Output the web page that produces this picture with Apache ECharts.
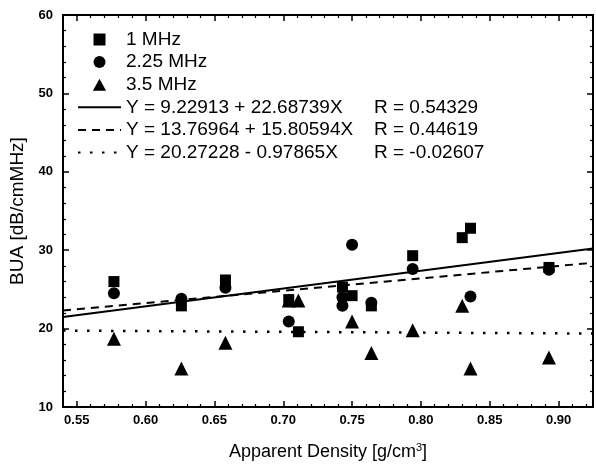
<!DOCTYPE html>
<html>
<head>
<meta charset="utf-8">
<script src="https://cdn.jsdelivr.net/npm/echarts@6/dist/echarts.min.js"></script>
<style>
	html, body {margin: 0; padding: 0; background: #fff;}
	#chart {width: 596px; height: 468px;}
</style>
</head>
<body>
<div id="chart"></div>
<script>
	// apparent density [g/cm3] and BUA [dB/cmMHz]
	var x1MHz = [0.577, 0.626, 0.658, 0.704, 0.711, 0.743, 0.750, 0.764, 0.794, 0.830, 0.836, 0.893];
	var y1MHz = [26.0, 22.9, 26.2, 23.7, 19.6, 25.3, 24.2, 22.9, 29.3, 31.6, 32.8, 27.8];

	var x225MHz = [0.577, 0.626, 0.658, 0.704, 0.743, 0.743, 0.750, 0.764, 0.794, 0.836, 0.893];
	var y225MHz = [24.5, 23.8, 25.2, 20.9, 24.0, 22.9, 30.7, 23.3, 27.6, 24.1, 27.5];

	var x35MHz = [0.577, 0.626, 0.658, 0.704, 0.711, 0.750, 0.764, 0.794, 0.830, 0.836, 0.893];
	var y35MHz = [18.7, 14.9, 18.2, 23.6, 23.6, 20.9, 16.9, 19.8, 22.9, 14.9, 16.3];

	// linear fits: intercept, slope, R
	var fitNames = ['Y = 9.22913 + 22.68739X', 'Y = 13.76964 + 15.80594X', 'Y = 20.27228 - 0.97865X'];
	var fitA = [9.22913, 13.76964, 20.27228];
	var fitB = [22.68739, 15.80594, -0.97865];
	var fitR = ['R = 0.54329', 'R = 0.44619', 'R = -0.02607'];
	var fitLine = ['solid', [8, 6], [2.5, 9.5]];

	var xMin = 0.54, xMax = 0.925;
	var font = 'Liberation Sans, Arial, sans-serif';

	function $extend(a, b){
		for (var k in b) a[k] = b[k];
		return a;
	}

	function pairs(xs, ys){
		return xs.map(function(x, i){ return [x, ys[i]]; });
	}

	var fitSeries = fitNames.map(function(name, i){
		return {
			name: name,
			type: 'line',
			symbol: 'none',
			silent: true,
			itemStyle: {color: '#000'},
			data: [xMin, xMax].map(function(x){ return [x, fitA[i] + fitB[i] * x]; }),
			lineStyle: {color: '#000', width: i == 2 ? 2.5 : 2, type: fitLine[i]}
		};
	});

	var pointSeries = [
		{name: '1 MHz', symbol: 'rect', symbolSize: 11, data: pairs(x1MHz, y1MHz)},
		{name: '2.25 MHz', symbol: 'circle', symbolSize: 12, data: pairs(x225MHz, y225MHz)},
		{name: '3.5 MHz', symbol: 'triangle', symbolSize: 14, data: pairs(x35MHz, y35MHz)}
	].map(function(s){
		return $extend(s, {type: 'scatter', itemStyle: {color: '#000', opacity: 1}});
	});

	var rByName = {};
	fitNames.forEach(function(n, i){ rByName[n] = fitR[i]; });

	var tickCommon = {
		axisLine: {show: true, onZero: false, lineStyle: {color: '#000', width: 2}},
		axisTick: {show: true, inside: true, length: 6, lineStyle: {color: '#000', width: 1.5}},
		minorTick: {show: true, splitNumber: 5, length: 3, lineStyle: {color: '#000', width: 1.2}},
		splitLine: {show: false}
	};

	function xAxis(pos, labels){
		return $extend({
			type: 'value', position: pos, min: xMin, max: xMax, splitNumber: 8,
			name: labels ? 'Apparent Density [g/cm{sup|3}]' : '',
			nameLocation: 'middle', nameGap: 35,
			nameTextStyle: {
				color: '#000', fontSize: 18, fontFamily: font,
				rich: {sup: {fontSize: 11, verticalAlign: 'top', padding: [0, 0, 10, 0], color: '#000', fontFamily: font}}
			},
			axisLabel: {
				show: labels, margin: 7, color: '#000', fontSize: 13, fontWeight: 'bold', fontFamily: font,
				showMinLabel: false, showMaxLabel: false,
				formatter: function(v){ return v.toFixed(2); }
			}
		}, JSON.parse(JSON.stringify(tickCommon)));
	}

	function yAxis(pos, labels){
		return $extend({
			type: 'value', position: pos, min: 10, max: 60, interval: 10,
			name: labels ? 'BUA [dB/cmMHz]' : '',
			nameLocation: 'middle', nameGap: 24,
			nameTextStyle: {color: '#000', fontSize: 19, fontFamily: font},
			axisLabel: {show: labels, margin: 10, color: '#000', fontSize: 13, fontWeight: 'bold', fontFamily: font}
		}, JSON.parse(JSON.stringify(tickCommon)));
	}

	var fitLegend = fitNames.map(function(n){
		return {name: n, itemStyle: {opacity: 0}};
	});

	var option = {
		animation: false,
		backgroundColor: '#fff',
		grid: {left: 63, right: 3, top: 15, bottom: 61},
		xAxis: [xAxis('bottom', true), xAxis('top', false)],
		yAxis: [yAxis('left', true), yAxis('right', false)],
		legend: {
			orient: 'vertical',
			left: 72,
			top: 25,
			itemWidth: 43,
			itemHeight: 12,
			itemGap: 3.6,
			selectedMode: false,
			data: [
				{name: '1 MHz', icon: 'path://M0,0H10V10H0Z'},
				{name: '2.25 MHz', icon: 'path://M5,0A5,5 0 1,1 5,10A5,5 0 1,1 5,0Z'},
				{name: '3.5 MHz', icon: 'path://M5,0L10.5,10H-0.5Z'}
			].concat(fitLegend),
			textStyle: {
				color: '#000', fontSize: 19, fontFamily: font, lineHeight: 19,
				rich: {
					a: {width: 248, fontSize: 19, lineHeight: 19, color: '#000', fontFamily: font},
					b: {fontSize: 19, lineHeight: 19, color: '#000', fontFamily: font}
				}
			},
			formatter: function(name){
				return rByName[name] ? '{a|' + name + '}{b|' + rByName[name] + '}' : name;
			}
		},
		series: fitSeries.concat(pointSeries)
	};

	var chart = echarts.init(document.getElementById('chart'), null, {renderer: 'canvas'});
	chart.setOption(option);
</script>
</body>
</html>
